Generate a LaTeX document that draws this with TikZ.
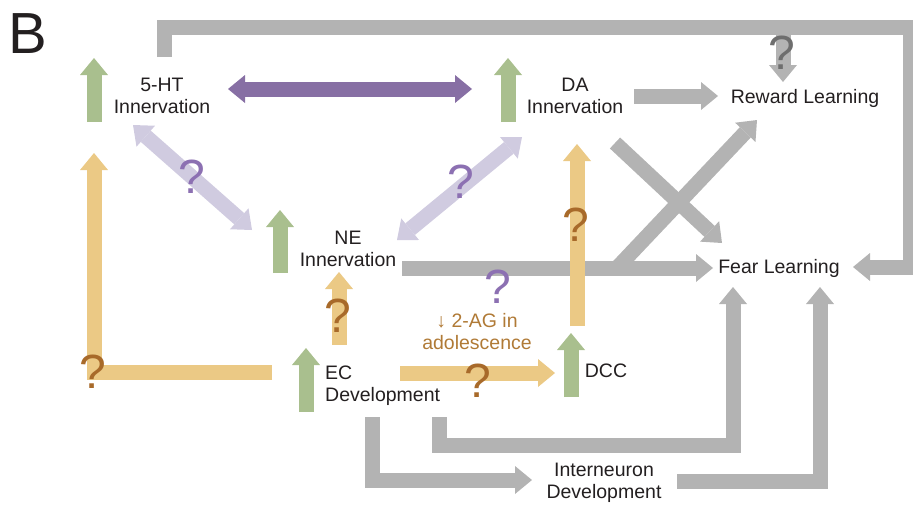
\documentclass[tikz,border=0pt]{standalone}
\usepackage{fontspec}
\setmainfont{Liberation Sans}
\usetikzlibrary{arrows.meta}
\definecolor{grn}{HTML}{A9BF8E}
\definecolor{org}{HTML}{EBC985}
\definecolor{gry}{HTML}{B3B3B3}
\definecolor{pur}{HTML}{876FA4}
\definecolor{lav}{HTML}{D0CBE0}
\definecolor{brn}{HTML}{A86A2A}
\definecolor{qpur}{HTML}{8C70B2}
\definecolor{qgry}{HTML}{6E6E6E}
\definecolor{txt}{HTML}{231F20}
\definecolor{agtxt}{HTML}{B07A36}
\begin{document}
\begin{tikzpicture}[x=1pt,y=-1pt,line join=miter,
	blk/.style={line width=15pt,-{Triangle[width=28pt,length=17pt,line width=0pt]}},
	dblk/.style={line width=15pt,{Triangle[width=28pt,length=17pt,line width=0pt]}-{Triangle[width=28pt,length=17pt,line width=0pt]}},
	lbl/.style={align=center,inner sep=0pt,text=txt,font=\fontsize{19.5}{22}\selectfont},
	qm/.style={inner sep=0pt,font=\fontsize{48}{48}\selectfont}]
	\useasboundingbox (0,0) rectangle (913,504);
	\node[inner sep=0pt,anchor=west,text=txt,font=\fontsize{58}{58}\selectfont] (panel) at (8,34) {B};
	% text nodes
	\node[lbl] (ht) at (162,96) {5-HT\\Innervation};
	\node[lbl] (da) at (575,96) {DA\\Innervation};
	\node[lbl] (reward) at (805,98) {Reward Learning};
	\node[lbl] (ne) at (348,249) {NE\\Innervation};
	\node[lbl] (fear) at (779,268) {Fear Learning};
	\node[lbl,align=left,anchor=west] (ec) at (325,386) {EC\\Development};
	\node[lbl] (dcc) at (606,371) {DCC};
	\node[lbl] (inter) at (604,483) {Interneuron\\Development};
	\node[lbl,text=agtxt] (ag) at (477,332) {↓ 2-AG in\\adolescence};
	% gray outputs
	\draw[blk,gry] (164,57)--(164,27.5)--(910,27.5)--(910,267)--(853,267);
	\draw[blk,gry] (783,35)--(783,82);
	\draw[blk,gry] (634,96)--(718,96);
	\draw[blk,gry] (615,143)--(722,243);
	\draw[blk,gry] (615,270)--(757,120);
	\draw[blk,gry] (402,268)--(713,268);
	\draw[blk,gry] (439,417)--(439,445)--(733,445)--(733,287);
	\draw[blk,gry] (372,417)--(372,480)--(532,480);
	\draw[blk,gry] (677,481)--(820,481)--(820,287);
	% monoamine interactions
	\draw[dblk,pur] (228,89)--(472,89);
	\draw[dblk,lav] (133,125)--(252,230);
	\draw[dblk,lav] (397,240)--(522,137);
	% endocannabinoid
	\draw[blk,org] (272,372)--(94,372)--(94,153);
	\draw[blk,org] (339,345)--(339,272);
	\draw[blk,org] (400,373)--(555,373);
	\draw[blk,org] (577,326)--(577,144);
	% increases
	\draw[blk,grn] (94,122)--(94,58);
	\draw[blk,grn] (508,122)--(508,58);
	\draw[blk,grn] (280,273)--(280,210);
	\draw[blk,grn] (306,412)--(306,348);
	\draw[blk,grn] (571,397)--(571,333);
	% question marks
	\node[qm,text=qpur] (q1) at (192,177) {?};
	\node[qm,text=qpur] (q2) at (461,182) {?};
	\node[qm,text=qpur] (q3) at (498,287) {?};
	\node[qm,text=qgry] (q4) at (782,53) {?};
	\node[qm,text=brn] (q5) at (338,316) {?};
	\node[qm,text=brn] (q6) at (93,372) {?};
	\node[qm,text=brn] (q7) at (478,381) {?};
	\node[qm,text=brn] (q8) at (576,225) {?};
\end{tikzpicture}
\end{document}
